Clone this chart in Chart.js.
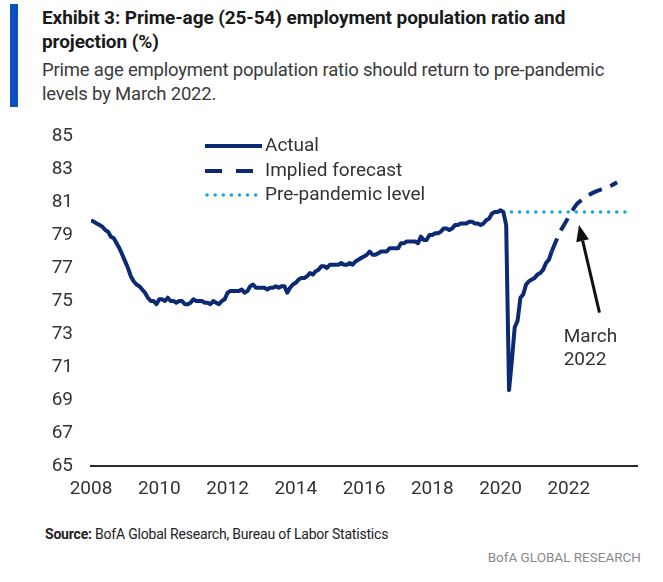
<!DOCTYPE html>
<html>
<head>
<meta charset="utf-8">
<script src="https://cdn.jsdelivr.net/npm/chart.js@4"></script>
<style>
  html, body { margin: 0; padding: 0; background: #fff; }
  body { width: 663px; height: 582px; position: relative; overflow: hidden; font-family: Roboto, sans-serif; }
  #bar { position: absolute; left: 10px; top: 4px; width: 8px; height: 103px; background: #0c4fc0; }
  #title { position: absolute; left: 42px; top: 6px; width: 620px; font-weight: bold; font-size: 19px;
           line-height: 24px; color: #1a1a1a; letter-spacing: -0.1px; }
  #sub { position: absolute; left: 42px; top: 58px; width: 620px; font-size: 18.5px; line-height: 24px;
         color: #3a3a3a; letter-spacing: -0.2px; }
  #wrap { position: absolute; left: 0; top: 0; width: 663px; height: 520px; }
  #source { position: absolute; left: 45px; top: 526px; font-size: 14px; color: #222; letter-spacing: -0.2px; }
  #footer { position: absolute; right: 22px; top: 549px; font-size: 13.5px; color: #8a8a8a; }
</style>
</head>
<body>
<div id="bar"></div>
<div id="title">Exhibit 3: Prime-age (25-54) employment population ratio and<br>projection (%)</div>
<div id="sub">Prime age employment population ratio should return to pre-pandemic<br>levels by March 2022.</div>
<div id="wrap"><canvas id="chart"></canvas></div>
<div id="source"><b>Source:</b> BofA Global Research, Bureau of Labor Statistics</div>
<div id="footer">BofA GLOBAL RESEARCH</div>
<script>
// Monthly prime-age EPOP, Jan 2008 .. Jul 2021
const actualStart = '2008-01';
const actual2008 = [79.9, 79.8, 79.7, 79.6, 79.5, 79.3, 79.2, 78.9, 78.8, 78.5, 78.2, 77.8];
const actual2009 = [77.4, 77.0, 76.5, 76.2, 76.0, 75.9, 75.7, 75.5, 75.2, 75.0, 75.0, 74.8];
const actual2010 = [75.1, 75.1, 75.0, 75.2, 75.0, 75.0, 74.9, 75.0, 75.0, 74.8, 74.8, 74.9];
const actual2011 = [75.1, 75.0, 75.0, 75.0, 74.9, 74.9, 74.8, 75.0, 74.9, 74.8, 75.0, 75.1];
const actual2012 = [75.5, 75.6, 75.6, 75.6, 75.6, 75.7, 75.5, 75.6, 75.9, 76.0, 75.8, 75.8];
const actual2013 = [75.8, 75.8, 75.7, 75.8, 75.8, 75.9, 75.8, 75.9, 75.9, 75.5, 75.8, 76.0];
const actual2014 = [76.1, 76.3, 76.4, 76.4, 76.5, 76.7, 76.6, 76.8, 76.9, 77.1, 77.1, 77.0];
const actual2015 = [77.2, 77.2, 77.2, 77.2, 77.3, 77.2, 77.2, 77.3, 77.2, 77.4, 77.5, 77.6];
const actual2016 = [77.7, 77.8, 78.0, 77.8, 77.8, 77.9, 78.0, 78.0, 78.0, 78.2, 78.2, 78.2];
const actual2017 = [78.2, 78.5, 78.5, 78.6, 78.6, 78.6, 78.6, 78.5, 78.9, 78.7, 78.7, 79.0];
const actual2018 = [79.0, 79.1, 79.1, 79.2, 79.4, 79.4, 79.3, 79.4, 79.6, 79.6, 79.7, 79.7];
const actual2019 = [79.7, 79.8, 79.8, 79.7, 79.7, 79.6, 79.7, 79.9, 80.0, 80.3, 80.4, 80.4];
const actual2020 = [80.5, 80.4, 79.6, 69.6, 71.4, 73.4, 73.8, 75.2, 75.4, 76.0, 76.2, 76.3];
const actual2021 = [76.4, 76.6, 76.7, 76.9, 77.3, 77.5, 78.0];

const forecastMonths = ['2021-07', '2021-10', '2021-12', '2022-02', '2022-04', '2022-07', '2022-10', '2023-01', '2023-04', '2023-06'];
const forecastValues = [78.0, 79.2, 79.8, 80.4, 80.9, 81.3, 81.6, 81.8, 82.0, 82.2];

const prePandemicMonths = ['2020-02', '2023-11'];
const prePandemicLevel = 80.4;

const yearTicks = [2008, 2010, 2012, 2014, 2016, 2018, 2020, 2022];
const yTicks = [65, 67, 69, 71, 73, 75, 77, 79, 81, 83, 85];

const legendLabels = ['Actual', 'Implied forecast', 'Pre-pandemic level'];
const noteLines = ['March', '2022'];
const noteArrowFrom = { x: 2022.9, y: 74.3 };
const noteArrowTo = { x: 2022.3, y: 79.6 };
const noteTextAt = { x: 2021.85, y: 72.8 };

const NAVY = '#0c2a74';
const CYAN = '#1aa9dc';
const FONT = 'Roboto, sans-serif';

function monthToX(m) {
    const [y, mo] = m.split('-').map(Number);
    return y + (mo - 1) / 12;
}

const actualAll = [].concat(actual2008, actual2009, actual2010, actual2011, actual2012, actual2013,
    actual2014, actual2015, actual2016, actual2017, actual2018, actual2019, actual2020, actual2021);
const startX = monthToX(actualStart);
const actualPoints = actualAll.map((v, i) => ({ x: startX + i / 12, y: v }));
const forecastPoints = forecastMonths.map((m, i) => ({ x: monthToX(m), y: forecastValues[i] }));
const prePoints = prePandemicMonths.map(m => ({ x: monthToX(m), y: prePandemicLevel }));

// legend + arrow drawn on the canvas
const extrasPlugin = {
    id: 'extras',
    afterDraw(chart) {
        const ctx = chart.ctx;
        const xs = chart.scales.x, ys = chart.scales.y;
        ctx.save();
        // legend
        const lx = 205, lw = 57, ly = [146, 171, 195];
        ctx.lineWidth = 4;
        ctx.strokeStyle = NAVY;
        ctx.beginPath(); ctx.moveTo(lx, ly[0]); ctx.lineTo(lx + lw, ly[0]); ctx.stroke();
        ctx.setLineDash([17, 14]);
        ctx.beginPath(); ctx.moveTo(lx, ly[1]); ctx.lineTo(lx + lw, ly[1]); ctx.stroke();
        ctx.setLineDash([0.1, 8]);
        ctx.lineCap = 'round';
        ctx.lineWidth = 3.5;
        ctx.strokeStyle = CYAN;
        ctx.beginPath(); ctx.moveTo(lx + 2, ly[2]); ctx.lineTo(lx + lw, ly[2]); ctx.stroke();
        ctx.setLineDash([]);
        ctx.lineCap = 'butt';
        ctx.fillStyle = '#333';
        ctx.font = '19px ' + FONT;
        ctx.textBaseline = 'middle';
        ctx.textAlign = 'left';
        legendLabels.forEach((t, i) => ctx.fillText(t, lx + lw + 3, ly[i]));

        // arrow
        const x1 = xs.getPixelForValue(noteArrowFrom.x), y1 = ys.getPixelForValue(noteArrowFrom.y);
        const x2 = xs.getPixelForValue(noteArrowTo.x), y2 = ys.getPixelForValue(noteArrowTo.y);
        const ang = Math.atan2(y2 - y1, x2 - x1);
        const head = 16, half = 6.5;
        const bx = x2 - head * Math.cos(ang), by = y2 - head * Math.sin(ang);
        ctx.strokeStyle = '#111';
        ctx.lineWidth = 3;
        ctx.beginPath(); ctx.moveTo(x1, y1); ctx.lineTo(bx, by); ctx.stroke();
        ctx.fillStyle = '#111';
        ctx.beginPath();
        ctx.moveTo(x2, y2);
        ctx.lineTo(bx + half * Math.sin(ang), by - half * Math.cos(ang));
        ctx.lineTo(bx - half * Math.sin(ang), by + half * Math.cos(ang));
        ctx.closePath(); ctx.fill();

        // note text
        ctx.fillStyle = '#333';
        ctx.font = '19px ' + FONT;
        const tx = xs.getPixelForValue(noteTextAt.x), ty = ys.getPixelForValue(noteTextAt.y);
        noteLines.forEach((t, i) => ctx.fillText(t, tx, ty + i * 23));
        ctx.restore();
    }
};

new Chart(document.getElementById('chart'), {
    type: 'line',
    data: {
        datasets: [
            { label: 'Actual', data: actualPoints, borderColor: NAVY, borderWidth: 4,
              pointRadius: 0, tension: 0, borderJoinStyle: 'round' },
            { label: 'Implied forecast', data: forecastPoints, borderColor: NAVY, borderWidth: 4,
              borderDash: [14, 9], pointRadius: 0, tension: 0.3 },
            { label: 'Pre-pandemic level', data: prePoints, borderColor: CYAN, borderWidth: 3.5,
              borderDash: [0.1, 8], borderCapStyle: 'round', pointRadius: 0 }
        ]
    },
    options: {
        responsive: true,
        maintainAspectRatio: false,
        animation: false,
        layout: { padding: { left: 0, right: 26, top: 136, bottom: 0 } },
        plugins: { legend: { display: false }, tooltip: { enabled: false } },
        scales: {
            x: {
                type: 'linear', min: 2008, max: 2024,
                afterBuildTicks: s => { s.ticks = yearTicks.map(v => ({ value: v })); },
                afterFit: s => { s.height = 54; },
                grid: { display: false, drawTicks: false },
                border: { display: true, color: '#2b2b2b', width: 2 },
                ticks: { color: '#333', padding: 12, maxRotation: 0, autoSkip: false,
                         callback: v => String(v), font: { family: FONT, size: 19 } }
            },
            y: {
                min: 65, max: 85,
                afterBuildTicks: s => { s.ticks = yTicks.map(v => ({ value: v })); },
                afterFit: s => { s.width = 91; },
                grid: { display: false, drawTicks: false },
                border: { display: false },
                ticks: { color: '#333', padding: 18, callback: v => String(v), font: { family: FONT, size: 19 } }
            }
        }
    },
    plugins: [extrasPlugin]
});
</script>
</body>
</html>
